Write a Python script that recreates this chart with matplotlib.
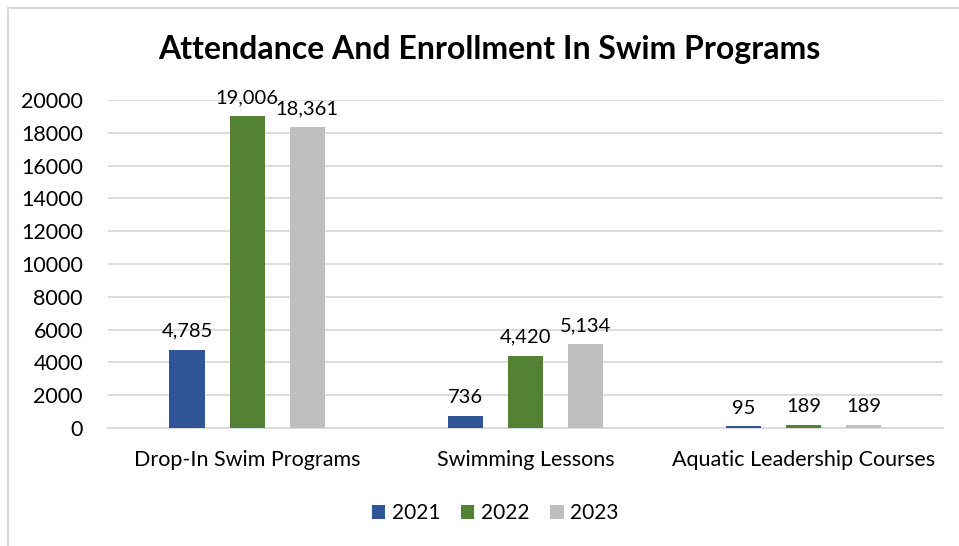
import matplotlib
matplotlib.use("Agg")
import matplotlib.pyplot as plt
import numpy as np
from matplotlib.lines import Line2D

plt.rcParams['font.family'] = ['Lato', 'DejaVu Sans']

categories = ["Drop-In Swim Programs", "Swimming Lessons", "Aquatic Leadership Courses"]
years = ["2021", "2022", "2023"]
values_2021 = [4785, 736, 95]
values_2022 = [19006, 4420, 189]
values_2023 = [18361, 5134, 189]
yticks = list(range(0, 20001, 2000))

series = [values_2021, values_2022, values_2023]
colors = ["#2F5597", "#548235", "#BFBFBF"]

fig = plt.figure(figsize=(9.59, 5.46), dpi=100)
ax = fig.add_axes([0.1126, 0.2161, 0.983 - 0.1126, 0.8168 - 0.2161])

x = np.arange(len(categories))
width = 0.126
offsets = [-0.216, 0.0, 0.216]
for vals, col, off, yr in zip(series, colors, offsets, years):
    bars = ax.bar(x + off, vals, width, color=col, label=yr, zorder=3)
    for b, v in zip(bars, vals):
        ax.annotate(f"{v:,}", (b.get_x() + b.get_width() / 2, v),
                    xytext=(0, 7), textcoords="offset points",
                    ha="center", va="bottom", fontsize=14.5, color="#000000")

ax.set_xlim(-0.5, 2.5)
ax.set_ylim(0, 20000)
ax.set_yticks(yticks)
ax.set_yticklabels([str(t) for t in yticks], fontsize=15.5)
ax.set_xticks(x)
ax.set_xticklabels(categories, fontsize=15.5)
ax.tick_params(axis='both', length=0, colors="#000000")
ax.tick_params(axis='x', pad=16)
ax.tick_params(axis='y', pad=18)
ax.grid(axis='y', color="#D9D9D9", linewidth=1.3, zorder=0)
for s in ['top', 'right', 'left']:
    ax.spines[s].set_visible(False)
ax.spines['bottom'].set_color("#D9D9D9")
ax.spines['bottom'].set_linewidth(1.3)

fig.suptitle("Attendance And Enrollment In Swim Programs", x=0.51, y=1 - 50 / 546,
             va="center", fontsize=23, fontweight="bold")

leg = fig.legend(loc="center", bbox_to_anchor=(495 / 959, 1 - 513 / 546), ncol=3,
                 frameon=False, fontsize=15, handlelength=0.65, handleheight=0.65,
                 handletextpad=0.3, columnspacing=1.0)

# chart border (top and left visible)
fig.add_artist(Line2D([7.5 / 959, 1], [1 - 8 / 546, 1 - 8 / 546], transform=fig.transFigure,
                      color="#D9D9D9", linewidth=1.5))
fig.add_artist(Line2D([7.5 / 959, 7.5 / 959], [0, 1 - 8 / 546], transform=fig.transFigure,
                      color="#D9D9D9", linewidth=1.5))

fig.savefig("out.png", dpi=100, facecolor="white")
